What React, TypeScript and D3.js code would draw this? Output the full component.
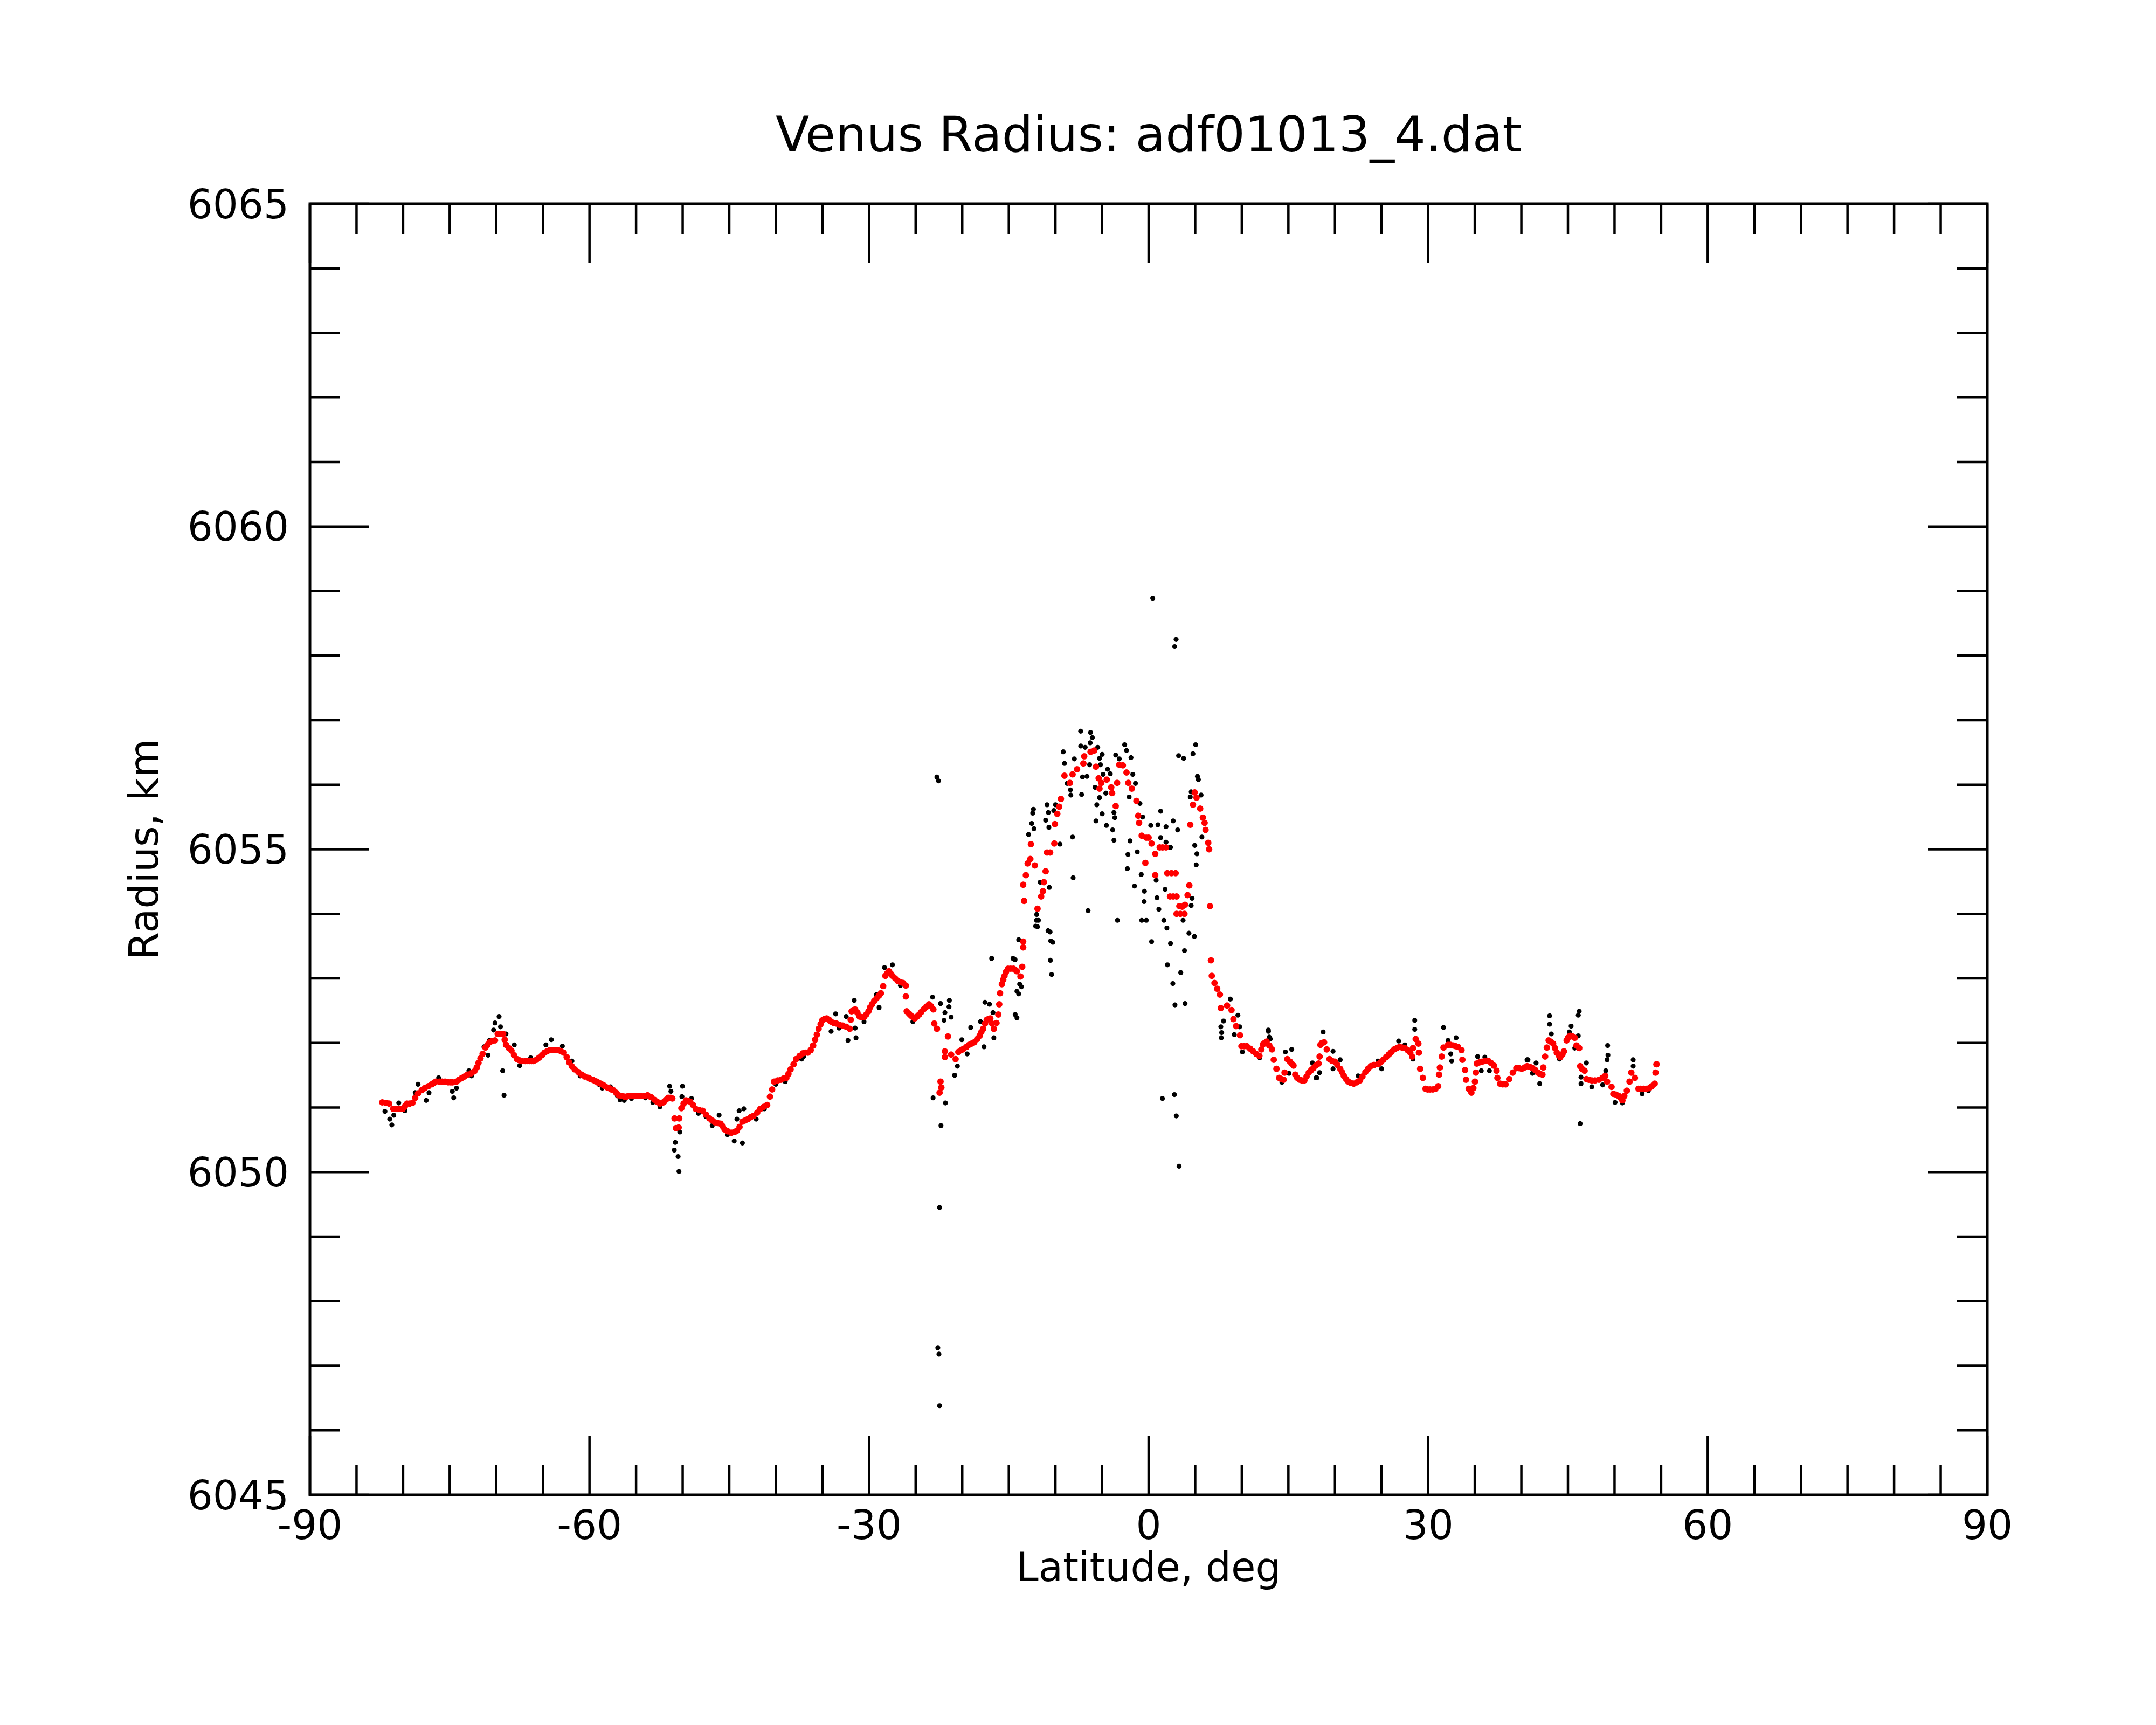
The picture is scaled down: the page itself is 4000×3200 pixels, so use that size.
import React from "react";
import * as d3 from "d3";

// red: smoothed radius profile, [latitude deg, radius km]
const fitPoints: [number, number][] = [
  [-82.24, 6051.08], [-81.5, 6051.06], [-81.06, 6050.98], [-80.55, 6050.98], [-80.03, 6050.98],
  [-79.58, 6051.06], [-79.0, 6051.07], [-78.4, 6051.22], [-77.67, 6051.3], [-76.93, 6051.36],
  [-76.49, 6051.4], [-75.8, 6051.4], [-75.16, 6051.39], [-74.7, 6051.39], [-74.27, 6051.4],
  [-73.68, 6051.46], [-73.09, 6051.51], [-72.36, 6051.56], [-71.91, 6051.69], [-71.47, 6051.83],
  [-71.17, 6051.93], [-70.73, 6052.01], [-70.14, 6052.04], [-69.85, 6052.14], [-69.26, 6052.14],
  [-68.96, 6051.97], [-68.37, 6051.88], [-67.78, 6051.75], [-67.3, 6051.72], [-66.9, 6051.72],
  [-66.45, 6051.72], [-66.01, 6051.72], [-65.42, 6051.77], [-64.83, 6051.85], [-64.24, 6051.89],
  [-63.8, 6051.89], [-63.36, 6051.89], [-62.76, 6051.85], [-62.18, 6051.7], [-61.58, 6051.59],
  [-60.85, 6051.51], [-60.11, 6051.46], [-59.65, 6051.43], [-59.22, 6051.4], [-58.8, 6051.37],
  [-58.34, 6051.33], [-57.9, 6051.3], [-57.45, 6051.27], [-56.86, 6051.19], [-56.27, 6051.17],
  [-55.8, 6051.18], [-55.39, 6051.18], [-54.95, 6051.18], [-54.5, 6051.18], [-53.77, 6051.19],
  [-53.03, 6051.12], [-52.44, 6051.06], [-51.99, 6051.09], [-51.55, 6051.15], [-51.11, 6051.14],
  [-50.87, 6050.83], [-50.72, 6050.68], [-50.43, 6050.69], [-50.37, 6050.83], [-50.14, 6050.99],
  [-49.63, 6051.11], [-49.19, 6051.09], [-48.6, 6050.98], [-47.86, 6050.95], [-47.13, 6050.83],
  [-46.54, 6050.77], [-45.94, 6050.75], [-45.5, 6050.66], [-44.77, 6050.61], [-44.18, 6050.64],
  [-43.59, 6050.78], [-43.0, 6050.82], [-42.41, 6050.87], [-41.67, 6050.98], [-40.93, 6051.04],
  [-40.63, 6051.17], [-40.19, 6051.4], [-39.45, 6051.43], [-38.87, 6051.46], [-38.42, 6051.59],
  [-37.83, 6051.75], [-37.1, 6051.84], [-36.56, 6051.85], [-36.26, 6051.89], [-35.79, 6052.05],
  [-35.41, 6052.22], [-35.02, 6052.35], [-34.55, 6052.38], [-34.07, 6052.33], [-33.5, 6052.3],
  [-32.83, 6052.27], [-32.07, 6052.22], [-31.97, 6052.36], [-31.87, 6052.49], [-31.49, 6052.52],
  [-31.02, 6052.41], [-30.54, 6052.4], [-30.06, 6052.49], [-29.68, 6052.6], [-29.2, 6052.69],
  [-28.73, 6052.77], [-28.48, 6052.88], [-28.25, 6053.04], [-27.87, 6053.11], [-27.49, 6053.04],
  [-26.91, 6052.96], [-26.34, 6052.93], [-26.05, 6052.89], [-26.05, 6052.72], [-25.96, 6052.49],
  [-25.48, 6052.42], [-25.1, 6052.38], [-24.62, 6052.44], [-24.15, 6052.52], [-23.57, 6052.6],
  [-23.1, 6052.52], [-23.0, 6052.3], [-22.71, 6052.22], [-22.43, 6051.23], [-22.33, 6051.4],
  [-22.24, 6051.31], [-21.86, 6051.87], [-21.86, 6051.78], [-21.53, 6052.1], [-21.19, 6051.82],
  [-20.71, 6051.75], [-20.42, 6051.86], [-19.85, 6051.91], [-19.28, 6051.97], [-18.71, 6052.01],
  [-18.13, 6052.11], [-17.75, 6052.22], [-17.37, 6052.36], [-16.99, 6052.38], [-16.61, 6052.22],
  [-16.32, 6052.31], [-16.13, 6052.44], [-16.03, 6052.6], [-15.94, 6052.77], [-15.75, 6052.91],
  [-15.46, 6053.04], [-15.08, 6053.15], [-14.51, 6053.15], [-14.13, 6053.11], [-13.75, 6053.03],
  [-13.56, 6053.18], [-13.46, 6053.48], [-13.46, 6053.57], [-13.36, 6054.2], [-13.46, 6054.45],
  [-13.17, 6054.6], [-12.98, 6054.78], [-12.69, 6054.85], [-12.63, 6055.08], [-12.21, 6054.75],
  [-11.92, 6054.08], [-11.53, 6054.27], [-11.34, 6054.35], [-11.24, 6054.49], [-11.05, 6054.66],
  [-10.9, 6054.95], [-10.57, 6054.95], [-10.12, 6055.09], [-10.05, 6055.39], [-9.8, 6055.55],
  [-9.6, 6055.66], [-9.41, 6055.78], [-9.03, 6056.14], [-8.45, 6056.03], [-8.16, 6056.16],
  [-7.68, 6056.24], [-7.0, 6056.33], [-6.91, 6056.44], [-6.23, 6056.51], [-5.84, 6056.53],
  [-5.65, 6056.28], [-5.36, 6056.1], [-5.27, 6055.94], [-5.07, 6056.03], [-4.49, 6056.08],
  [-4.01, 6055.96], [-3.92, 6055.87], [-3.53, 6055.67], [-3.38, 6056.03], [-3.15, 6056.31],
  [-2.76, 6056.3], [-2.37, 6056.19], [-2.18, 6056.03], [-1.8, 6055.94], [-1.31, 6055.75],
  [-1.12, 6055.52], [-1.02, 6055.41], [-0.74, 6055.21], [-0.35, 6054.79], [-0.25, 6055.18],
  [0.0, 6055.18], [0.32, 6055.09], [0.71, 6054.93], [0.71, 6054.6], [1.19, 6055.03],
  [1.5, 6055.03], [1.87, 6055.03], [2.0, 6054.63], [2.45, 6054.63], [2.9, 6054.63],
  [2.3, 6054.27], [2.64, 6054.27], [3.0, 6054.27], [3.0, 6054.0], [3.41, 6054.0],
  [3.85, 6054.0], [3.3, 6054.12], [3.6, 6054.11], [3.9, 6054.14], [4.18, 6054.29],
  [4.37, 6054.44], [4.47, 6055.38], [4.76, 6055.69], [4.95, 6055.88], [5.14, 6055.8],
  [5.53, 6055.63], [5.82, 6055.49], [6.01, 6055.41], [6.11, 6055.3], [6.4, 6055.1],
  [6.49, 6055.0], [6.59, 6054.12], [6.69, 6053.28], [6.78, 6053.04], [7.07, 6052.93],
  [7.36, 6052.84], [7.65, 6052.75], [7.75, 6052.54], [8.42, 6052.58], [8.9, 6052.51],
  [9.1, 6052.37], [9.39, 6052.26], [9.81, 6052.12], [9.96, 6051.95], [10.54, 6051.95],
  [11.22, 6051.87], [11.89, 6051.8], [12.28, 6051.98], [12.66, 6052.02], [13.24, 6051.9],
  [13.43, 6051.74], [13.72, 6051.6], [14.01, 6051.46], [14.49, 6051.43], [14.59, 6051.54],
  [14.88, 6051.75], [15.17, 6051.71], [15.55, 6051.65], [15.74, 6051.51], [16.23, 6051.43],
  [16.71, 6051.42], [17.19, 6051.54], [17.67, 6051.61], [18.25, 6051.68], [18.35, 6051.79],
  [18.44, 6051.97], [18.83, 6052.01], [19.12, 6051.9], [19.41, 6051.75], [19.99, 6051.71],
  [20.56, 6051.6], [20.95, 6051.49], [21.43, 6051.4], [22.01, 6051.37], [22.68, 6051.42],
  [23.26, 6051.55], [23.84, 6051.64], [24.61, 6051.67], [25.19, 6051.74], [25.77, 6051.82],
  [26.35, 6051.9], [26.93, 6051.94], [27.5, 6051.92], [28.08, 6051.85], [28.28, 6051.79],
  [28.37, 6051.92], [28.66, 6052.06], [28.95, 6051.99], [29.01, 6051.85], [29.14, 6051.6],
  [29.43, 6051.46], [29.72, 6051.29], [30.2, 6051.28], [30.78, 6051.29], [31.07, 6051.33],
  [31.17, 6051.51], [31.26, 6051.62], [31.46, 6051.79], [31.65, 6051.93], [32.13, 6051.97],
  [32.71, 6051.96], [33.19, 6051.94], [33.58, 6051.89], [33.67, 6051.74], [33.96, 6051.58],
  [34.06, 6051.43], [34.35, 6051.29], [34.64, 6051.23], [35.02, 6051.4], [35.12, 6051.54],
  [35.22, 6051.68], [35.79, 6051.71], [36.47, 6051.72], [37.05, 6051.65], [37.34, 6051.57],
  [37.43, 6051.46], [37.72, 6051.37], [38.3, 6051.36], [38.69, 6051.44], [39.08, 6051.54],
  [39.46, 6051.61], [40.04, 6051.6], [40.62, 6051.64], [41.2, 6051.61], [41.77, 6051.54],
  [42.26, 6051.51], [42.35, 6051.62], [42.55, 6051.79], [42.74, 6051.93], [42.93, 6052.04],
  [43.41, 6051.99], [43.8, 6051.85], [44.18, 6051.78], [44.57, 6051.87], [44.86, 6052.04],
  [45.24, 6052.11], [45.73, 6052.08], [45.92, 6051.96], [46.21, 6051.92], [46.31, 6051.64],
  [46.79, 6051.57], [46.98, 6051.44], [47.56, 6051.42], [48.33, 6051.43], [49.0, 6051.49],
  [49.2, 6051.4], [49.68, 6051.32], [49.87, 6051.21], [50.45, 6051.18], [50.84, 6051.11],
  [51.32, 6051.26], [51.61, 6051.4], [51.8, 6051.54], [52.19, 6051.46], [52.57, 6051.29],
  [53.15, 6051.29], [53.73, 6051.3], [54.31, 6051.37], [54.4, 6051.54], [54.5, 6051.67],
  // denser samples along the smooth stretches
  [-81.8, 6051.07], [-80.8, 6050.98], [-80.3, 6050.98], [-79.8, 6051.02], [-79.3, 6051.06],
  [-78.7, 6051.15], [-78.0, 6051.27], [-77.3, 6051.33], [-76.7, 6051.38], [-76.1, 6051.4],
  [-75.5, 6051.4], [-74.9, 6051.39], [-74.0, 6051.43], [-73.4, 6051.48], [-72.7, 6051.53],
  [-72.1, 6051.62], [-71.7, 6051.76], [-70.95, 6051.97], [-70.45, 6052.03], [-69.55, 6052.14],
  [-69.1, 6052.05], [-68.65, 6051.92], [-68.1, 6051.81], [-67.5, 6051.73], [-66.7, 6051.72],
  [-66.2, 6051.72], [-65.7, 6051.74], [-65.1, 6051.81], [-64.55, 6051.87], [-64.0, 6051.89],
  [-63.55, 6051.89], [-63.05, 6051.87], [-62.45, 6051.78], [-61.9, 6051.64], [-61.2, 6051.55],
  [-60.5, 6051.48], [-59.9, 6051.44], [-59.4, 6051.41], [-59.0, 6051.38], [-58.55, 6051.35],
  [-58.1, 6051.31], [-57.65, 6051.28], [-57.15, 6051.23], [-56.55, 6051.18], [-56.0, 6051.17],
  [-55.6, 6051.18], [-55.15, 6051.18], [-54.7, 6051.18], [-54.1, 6051.18], [-53.4, 6051.16],
  [-52.75, 6051.09], [-52.2, 6051.07], [-51.8, 6051.12], [-51.3, 6051.15], [-49.9, 6051.06],
  [-49.4, 6051.1], [-48.9, 6051.04], [-48.2, 6050.96], [-47.5, 6050.89], [-46.85, 6050.8],
  [-46.25, 6050.76], [-45.7, 6050.71], [-45.15, 6050.63], [-44.45, 6050.62], [-43.9, 6050.7],
  [-43.3, 6050.8], [-42.7, 6050.85], [-42.0, 6050.92], [-41.3, 6051.01], [-40.4, 6051.28],
  [-39.8, 6051.42], [-39.15, 6051.45], [-38.65, 6051.52], [-38.1, 6051.67], [-37.45, 6051.8],
  [-36.85, 6051.85], [-36.0, 6051.96], [-35.6, 6052.13], [-35.2, 6052.29], [-34.8, 6052.37],
  [-34.3, 6052.36], [-33.8, 6052.31], [-33.15, 6052.28], [-32.45, 6052.25], [-31.7, 6052.51],
  [-31.25, 6052.47], [-30.8, 6052.4], [-30.3, 6052.44], [-29.9, 6052.55], [-29.45, 6052.65],
  [-28.95, 6052.73], [-28.05, 6053.08], [-27.7, 6053.08], [-27.2, 6053.0], [-26.6, 6052.94],
  [-25.7, 6052.45], [-25.3, 6052.4], [-24.85, 6052.41], [-24.4, 6052.48], [-23.85, 6052.56],
  [-23.35, 6052.57], [-20.1, 6051.89], [-19.55, 6051.94], [-19.0, 6051.99], [-18.4, 6052.06],
  [-17.95, 6052.17], [-17.55, 6052.3], [-17.2, 6052.37], [-16.8, 6052.3], [-15.6, 6052.98],
  [-15.3, 6053.1], [-14.8, 6053.15], [-14.3, 6053.13], [10.25, 6051.95], [10.9, 6051.91],
  [11.55, 6051.83], [12.1, 6051.9], [12.45, 6052.0], [12.95, 6051.96], [14.25, 6051.44],
  [15.35, 6051.68], [15.95, 6051.46], [16.45, 6051.42], [16.95, 6051.48], [17.45, 6051.58],
  [17.95, 6051.65], [18.6, 6052.0], [19.7, 6051.72], [20.25, 6051.66], [20.75, 6051.55],
  [21.2, 6051.44], [21.7, 6051.38], [22.35, 6051.39], [22.95, 6051.48], [23.55, 6051.6],
  [24.2, 6051.66], [24.9, 6051.7], [25.5, 6051.78], [26.05, 6051.86], [26.65, 6051.92],
  [27.2, 6051.93], [27.8, 6051.89], [29.95, 6051.28], [30.5, 6051.28], [32.4, 6051.97],
  [32.95, 6051.95], [34.85, 6051.3], [35.5, 6051.7], [36.1, 6051.72], [36.75, 6051.69],
  [38.0, 6051.36], [39.75, 6051.61], [40.35, 6051.62], [40.9, 6051.63], [41.5, 6051.58],
  [42.0, 6051.52], [43.15, 6052.02], [43.6, 6051.92], [44.0, 6051.81], [44.4, 6051.82],
  [45.0, 6052.08], [45.5, 6052.1], [46.5, 6051.6], [47.25, 6051.43], [47.9, 6051.42],
  [48.7, 6051.46], [50.15, 6051.2], [50.65, 6051.15], [51.05, 6051.18], [52.8, 6051.29],
  [53.45, 6051.29], [54.0, 6051.33],
];

// black: individual radius measurements, [latitude deg, radius km]
const obsPoints: [number, number][] = [
  [-81.95, 6050.94], [-81.44, 6050.82], [-81.21, 6050.73], [-81.0, 6050.88], [-80.47, 6051.07],
  [-79.8, 6050.95], [-78.7, 6051.23], [-78.4, 6051.36], [-77.52, 6051.11], [-77.22, 6051.23],
  [-76.19, 6051.46], [-74.72, 6051.25], [-74.57, 6051.15], [-74.27, 6051.3], [-72.94, 6051.57],
  [-72.65, 6051.49], [-71.32, 6051.94], [-70.88, 6051.81], [-70.73, 6052.04], [-70.29, 6052.2],
  [-70.14, 6052.31], [-69.7, 6052.41], [-69.55, 6052.25], [-68.96, 6052.14], [-69.32, 6051.57],
  [-69.17, 6051.19], [-68.07, 6051.97], [-67.49, 6051.65], [-66.31, 6051.77], [-64.68, 6051.97],
  [-64.09, 6052.05], [-62.91, 6051.95], [-61.88, 6051.72], [-61.0, 6051.49], [-59.0, 6051.36],
  [-58.63, 6051.3], [-57.75, 6051.32], [-57.0, 6051.18], [-56.72, 6051.12], [-56.27, 6051.11],
  [-55.5, 6051.14], [-54.0, 6051.15], [-53.2, 6051.08], [-52.44, 6051.01], [-51.4, 6051.33],
  [-51.26, 6051.25], [-50.02, 6051.33], [-50.08, 6051.17], [-50.31, 6050.62], [-50.79, 6050.46],
  [-50.9, 6050.34], [-50.49, 6050.24], [-50.4, 6050.01], [-49.05, 6051.14], [-48.31, 6050.91],
  [-47.5, 6050.86], [-46.09, 6050.88], [-46.83, 6050.72], [-45.2, 6050.58], [-44.47, 6050.48],
  [-43.59, 6050.45], [-43.94, 6050.95], [-43.44, 6050.98], [-44.18, 6050.82], [-42.11, 6050.82],
  [-41.23, 6050.98], [-40.0, 6051.36], [-39.0, 6051.4], [-37.24, 6051.75], [-37.03, 6051.79],
  [-34.07, 6052.18], [-33.59, 6052.45], [-33.21, 6052.23], [-32.45, 6052.41], [-32.26, 6052.04],
  [-31.59, 6052.66], [-31.49, 6052.23], [-31.4, 6052.08], [-30.54, 6052.33], [-29.2, 6052.75],
  [-28.92, 6052.55], [-28.34, 6053.17], [-27.49, 6053.21], [-26.63, 6052.89], [-25.3, 6052.33],
  [-23.19, 6052.71], [-22.33, 6052.61], [-21.38, 6052.66], [-21.42, 6052.56], [-21.86, 6052.47],
  [-21.19, 6052.4], [-21.95, 6052.35], [-23.13, 6051.15], [-21.8, 6051.07], [-22.28, 6050.72],
  [-22.72, 6056.12], [-22.55, 6056.06], [-22.43, 6049.45], [-22.62, 6047.28], [-22.5, 6047.18],
  [-22.43, 6046.38], [-20.81, 6051.5], [-20.52, 6051.64], [-20.04, 6052.05], [-19.47, 6051.83],
  [-19.09, 6052.24], [-18.04, 6052.33], [-17.66, 6051.94], [-17.56, 6052.63], [-17.08, 6052.6],
  [-16.7, 6052.47], [-16.61, 6052.08], [-16.84, 6053.31], [-14.32, 6052.44], [-14.55, 6053.31],
  [-14.13, 6052.8], [-13.84, 6052.91], [-13.94, 6053.6], [-14.33, 6053.29], [-13.65, 6052.87],
  [-13.94, 6052.76], [-14.13, 6052.39], [-12.12, 6053.81], [-12.03, 6053.9], [-10.79, 6053.74],
  [-10.5, 6053.58], [-10.54, 6053.28], [-10.41, 6053.06], [-12.88, 6055.23], [-12.36, 6055.62],
  [-12.44, 6055.56], [-12.55, 6055.4], [-12.3, 6055.32], [-12.01, 6053.99], [-11.82, 6053.9],
  [-11.92, 6053.8], [-11.63, 6054.49], [-11.05, 6055.45], [-10.9, 6055.69], [-10.76, 6055.57],
  [-10.7, 6055.34], [-10.66, 6054.41], [-10.57, 6053.72], [-10.28, 6053.56], [-10.18, 6055.6],
  [-9.99, 6055.69], [-9.51, 6055.08], [-9.16, 6056.51], [-9.03, 6056.33], [-8.74, 6056.02],
  [-8.39, 6055.92], [-8.35, 6055.84], [-8.16, 6055.19], [-8.1, 6054.56], [-7.97, 6056.4],
  [-7.29, 6056.83], [-7.29, 6056.6], [-7.19, 6055.85], [-7.1, 6056.12], [-6.81, 6056.58],
  [-6.62, 6056.13], [-6.5, 6054.05], [-6.33, 6056.31], [-6.27, 6056.65], [-6.23, 6056.81],
  [-6.04, 6056.73], [-5.75, 6055.96], [-5.65, 6055.44], [-5.56, 6055.69], [-5.46, 6056.58],
  [-5.27, 6056.41], [-5.27, 6055.8], [-5.17, 6056.31], [-4.98, 6056.47], [-4.98, 6055.55],
  [-4.88, 6056.16], [-4.59, 6055.87], [-4.53, 6055.37], [-4.4, 6056.24], [-4.11, 6056.17],
  [-3.86, 6055.3], [-3.72, 6055.57], [-3.72, 6055.14], [-3.63, 6055.49], [-3.53, 6056.46],
  [-3.34, 6053.9], [-3.15, 6056.4], [-2.57, 6056.62], [-2.37, 6056.53], [-2.28, 6054.7],
  [-2.22, 6054.92], [-2.09, 6055.81], [-1.99, 6055.13], [-1.89, 6056.42], [-1.7, 6056.16],
  [-1.51, 6054.43], [-1.41, 6056.02], [-1.22, 6054.96], [-0.93, 6055.71], [-0.79, 6054.61],
  [-0.74, 6053.9], [-0.64, 6055.5], [-0.48, 6054.19], [-0.45, 6054.35], [-0.25, 6053.9],
  [0.23, 6055.37], [0.32, 6053.57], [0.44, 6058.89], [0.81, 6054.52], [0.9, 6054.25],
  [1.0, 6055.38], [1.1, 6054.07], [1.29, 6055.59], [1.29, 6055.18], [1.48, 6051.14],
  [1.64, 6053.9], [1.77, 6054.38], [1.87, 6055.35], [1.87, 6055.11], [1.96, 6053.78],
  [2.02, 6053.21], [2.35, 6055.03], [2.35, 6053.54], [2.6, 6052.92], [2.64, 6055.44],
  [2.77, 6051.2], [2.8, 6058.14], [2.83, 6052.59], [2.95, 6058.25], [2.97, 6050.87],
  [3.12, 6055.3], [3.22, 6056.45], [3.27, 6050.09], [3.45, 6053.09], [3.7, 6053.9],
  [3.76, 6056.41], [3.85, 6053.43], [3.91, 6052.61], [4.33, 6053.7], [4.47, 6055.81],
  [4.57, 6055.89], [4.57, 6054.13], [4.66, 6054.24], [4.76, 6056.48], [4.91, 6053.65],
  [4.95, 6055.06], [5.05, 6056.62], [5.11, 6054.76], [5.18, 6054.93], [5.24, 6056.13],
  [5.34, 6056.08], [5.63, 6055.84], [5.72, 6055.19], [7.75, 6052.25], [7.8, 6052.08],
  [7.84, 6052.16], [8.04, 6052.34], [8.77, 6052.68], [9.19, 6052.13], [9.58, 6052.43],
  [9.77, 6052.25], [10.06, 6051.86], [11.93, 6051.77], [12.85, 6052.2], [12.86, 6052.18],
  [12.95, 6052.09], [13.05, 6052.06], [14.3, 6051.39], [14.68, 6051.86], [15.07, 6051.53],
  [15.36, 6051.9], [17.58, 6051.69], [17.96, 6051.46], [18.06, 6051.46], [18.35, 6051.54],
  [18.73, 6052.17], [19.79, 6051.87], [19.79, 6051.6], [20.56, 6051.74], [22.49, 6051.49],
  [24.61, 6051.72], [25.0, 6051.6], [26.83, 6052.03], [27.5, 6051.97], [28.37, 6051.75],
  [28.56, 6052.35], [28.56, 6052.21], [31.65, 6052.24], [32.13, 6052.04], [32.42, 6051.83],
  [32.52, 6051.72], [33.0, 6052.08], [35.31, 6051.79], [35.7, 6051.57], [36.08, 6051.78],
  [36.57, 6051.57], [40.61, 6051.74], [40.71, 6051.74], [41.19, 6051.53], [41.58, 6051.69],
  [41.97, 6051.37], [43.03, 6052.42], [43.03, 6052.29], [43.22, 6052.14], [44.09, 6051.75],
  [45.15, 6052.17], [45.34, 6052.26], [45.73, 6051.92], [46.11, 6052.43], [46.11, 6052.11],
  [46.21, 6052.49], [46.31, 6050.75], [46.4, 6051.47], [46.4, 6051.37], [46.98, 6051.69],
  [47.56, 6051.32], [48.72, 6051.35], [49.06, 6051.57], [49.2, 6051.74], [49.26, 6051.96],
  [49.29, 6051.81], [50.06, 6051.08], [50.84, 6051.07], [52.0, 6051.74], [52.0, 6051.64],
  [52.96, 6051.21], [53.63, 6051.26],
];

const latMajorTicks = [-90, -60, -30, 0, 30, 60, 90];
const radiusMajorTicks = [6045, 6050, 6055, 6060, 6065];

const W = 4000;
const H = 3200;
const plot = { left: 575, top: 378, right: 3687, bottom: 2773 };
const FONT = "'DejaVu Sans', sans-serif";

export default function App() {
  const x = d3.scaleLinear().domain([-90, 90]).range([plot.left, plot.right]);
  const y = d3.scaleLinear().domain([6045, 6065]).range([plot.bottom, plot.top]);

  const latMinor = d3.range(-90, 91, 5).filter((v) => !latMajorTicks.includes(v));
  const radMinor = d3.range(6045, 6066, 1).filter((v) => !radiusMajorTicks.includes(v));

  const majorLen = 110;
  const minorLen = 56;
  const cx = (plot.left + plot.right) / 2;
  const cy = (plot.top + plot.bottom) / 2;

  return (
    <div style={{ position: "absolute", left: 0, top: 0 }}>
      <svg width={W} height={H} style={{ display: "block", background: "#fff" }} fontFamily={FONT}>
        <rect width={W} height={H} fill="#fff" />

        <g>
          {obsPoints.map((d, i) => (
            <circle key={"o" + i} cx={x(d[0])} cy={y(d[1])} r={4.6} fill="#000" />
          ))}
          {fitPoints.map((d, i) => (
            <circle key={"f" + i} cx={x(d[0])} cy={y(d[1])} r={6} fill="#ff0000" />
          ))}
        </g>

        <g stroke="#000" strokeWidth={4.5}>
          {latMajorTicks.map((v) => (
            <g key={"xm" + v}>
              <line x1={x(v)} x2={x(v)} y1={plot.bottom} y2={plot.bottom - majorLen} />
              <line x1={x(v)} x2={x(v)} y1={plot.top} y2={plot.top + majorLen} />
            </g>
          ))}
          {latMinor.map((v) => (
            <g key={"xn" + v}>
              <line x1={x(v)} x2={x(v)} y1={plot.bottom} y2={plot.bottom - minorLen} />
              <line x1={x(v)} x2={x(v)} y1={plot.top} y2={plot.top + minorLen} />
            </g>
          ))}
          {radiusMajorTicks.map((v) => (
            <g key={"ym" + v}>
              <line x1={plot.left} x2={plot.left + majorLen} y1={y(v)} y2={y(v)} />
              <line x1={plot.right} x2={plot.right - majorLen} y1={y(v)} y2={y(v)} />
            </g>
          ))}
          {radMinor.map((v) => (
            <g key={"yn" + v}>
              <line x1={plot.left} x2={plot.left + minorLen} y1={y(v)} y2={y(v)} />
              <line x1={plot.right} x2={plot.right - minorLen} y1={y(v)} y2={y(v)} />
            </g>
          ))}
        </g>

        <rect
          x={plot.left}
          y={plot.top}
          width={plot.right - plot.left}
          height={plot.bottom - plot.top}
          fill="none"
          stroke="#000"
          strokeWidth={5}
        />

        <g fontSize={74} fill="#000">
          {latMajorTicks.map((v) => (
            <text key={"xl" + v} x={x(v)} y={2855} textAnchor="middle">
              {v}
            </text>
          ))}
          {radiusMajorTicks.map((v) => (
            <text key={"yl" + v} x={536} y={y(v)} dy="0.36em" textAnchor="end">
              {v}
            </text>
          ))}
          <text x={cx} y={2933} textAnchor="middle">
            Latitude, deg
          </text>
          <text transform={`translate(293, ${cy}) rotate(-90)`} textAnchor="middle">
            Radius, km
          </text>
        </g>

        <text x={cx} y={281} textAnchor="middle" fontSize={91} fill="#000">
          Venus Radius: adf01013_4.dat
        </text>
      </svg>
    </div>
  );
}
